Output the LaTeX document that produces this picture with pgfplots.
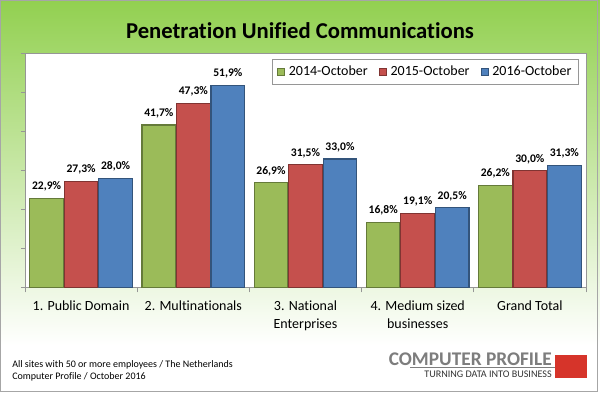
\documentclass[border=0pt]{standalone}
\usepackage{pgfplots}
\pgfplotsset{compat=1.18}
\usepackage{fontspec}
\setmainfont{Carlito}[Ligatures={NoCommon}]
\definecolor{cgreen}{RGB}{155,187,89}
\definecolor{cred}{RGB}{197,80,77}
\definecolor{cblue}{RGB}{79,129,189}
\definecolor{bggreen}{RGB}{146,208,80}
\definecolor{axgray}{RGB}{150,150,150}
\definecolor{logogray}{RGB}{125,125,125}
\definecolor{logored}{RGB}{214,52,42}
\begin{document}
\begin{tikzpicture}
\useasboundingbox (0,0) rectangle (450pt,294.75pt);
\fill[white] (0,0) rectangle (450pt,294.75pt);
\shade[top color=bggreen, bottom color=white] (0,36pt) rectangle (450pt,294.75pt);
\draw[gray!70, line width=0.6pt] (0.4pt,1.5pt) rectangle (447.8pt,294.35pt);
\begin{axis}[
  at={(18.75pt,79pt)}, anchor=south west,
  scale only axis, width=420.75pt, height=175.5pt,
  axis background/.style={fill=white},
  axis line style={draw=axgray, line width=0.5pt},
  xmin=-0.5, xmax=4.5, ymin=0, ymax=60,
  xtick={0,1,2,3,4},
  xticklabels={{1. Public Domain},{2. Multinationals},{3. National\\Enterprises},{4. Medium sized\\businesses},{Grand Total}},
  xticklabel style={align=center, font=\fontsize{10.5}{13.5}\selectfont, yshift=-3pt},
  major x tick style={draw=none},
  minor xtick={-0.5,0.5,...,4.5},
  minor tick length=3.5pt,
  ytick={0,10,...,60}, yticklabels={},
  major tick length=3pt,
  tick align=outside, xtick pos=bottom, ytick pos=left,
  tick style={draw=axgray, line width=0.5pt},
  ybar, bar width=0.30,
  nodes near coords={\pgfmathprintnumber[fixed,fixed zerofill,precision=1,use comma,assume math mode=true]{\pgfplotspointmeta}\%},
  every node near coord/.append style={font=\fontsize{8.7}{10}\selectfont\bfseries, text=black, yshift=1.5pt},
  legend columns=3,
  legend style={at={(1,1)}, anchor=north east, xshift=-5.25pt, yshift=-4pt,
    draw=axgray, font=\fontsize{10.5}{12}\selectfont, inner xsep=3.5pt, inner ysep=3pt,
    /tikz/every odd column/.append style={column sep=1pt},
    /tikz/every even column/.append style={column sep=6.5pt}},
  legend image code/.code={\draw[#1,line width=0.4pt] (0pt,-2.6pt) rectangle (5.2pt,2.6pt);},
]
\addplot[fill=cgreen, draw=cgreen!65!black, line width=0.9pt, bar shift=-0.3075] coordinates {(0,22.9) (1,41.7) (2,26.9) (3,16.8) (4,26.2)};
\addplot[fill=cred, draw=cred!65!black, line width=0.9pt, bar shift=0] coordinates {(0,27.3) (1,47.3) (2,31.5) (3,19.1) (4,30.0)};
\addplot[fill=cblue, draw=cblue!65!black, line width=0.9pt, bar shift=0.3075] coordinates {(0,28.0) (1,51.9) (2,33.0) (3,20.5) (4,31.3)};
\legend{2014-October,2015-October,2016-October}
\end{axis}
\begin{scope}[x=0.75pt, y=-0.75pt, shift={(0,294.75pt)}]
\node[font=\fontsize{17}{20}\selectfont\bfseries] at (300,31) {Penetration Unified Communications};
\node[anchor=west, font=\fontsize{7.5}{9}\selectfont, inner sep=0pt] at (12,365) {All sites with 50 or more employees / The Netherlands};
\node[anchor=west, font=\fontsize{7.5}{9}\selectfont, inner sep=0pt] at (12,377) {Computer Profile / October 2016};
\node[anchor=east, font=\fontsize{14.5}{16}\selectfont\bfseries, text=logogray, inner sep=0pt] at (552,359.5) {COMPUTER PROFILE};
\draw[logogray, line width=0.6pt] (410,367.5) -- (555,367.5);
\node[anchor=east, font=\fontsize{7.6}{8}\selectfont, text=black!80, inner sep=0pt] at (552,374.5) {TURNING DATA INTO BUSINESS};
\fill[logored] (555,355) rectangle (587,378);
\end{scope}
\end{tikzpicture}
\end{document}
